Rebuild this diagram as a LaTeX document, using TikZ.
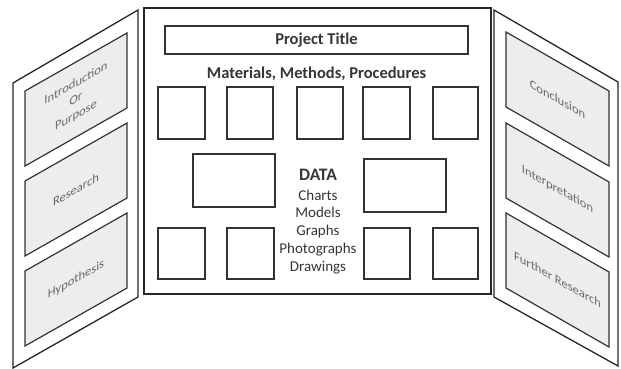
\documentclass[tikz,border=0pt]{standalone}
\usepackage{fontspec}
\setmainfont{Carlito}
\definecolor{ink}{HTML}{262626}
\definecolor{boxline}{HTML}{333333}
\definecolor{sidefill}{HTML}{EDEDED}
\definecolor{sidetxt}{HTML}{6A6A6A}
\definecolor{ctxt}{HTML}{363636}
\begin{document}
\begin{tikzpicture}[x=1pt,y=-1pt,
  panel/.style={draw=ink,line width=1.3pt,fill=white,line join=miter},
  sidebox/.style={draw=boxline,line width=1.2pt,fill=sidefill},
  mainpanel/.style={draw=ink,line width=2.6pt},
  cbox/.style={draw=boxline,line width=1.3pt,inner sep=0pt,outer sep=0pt},
  sidetext/.style={text=sidetxt,font=\fontsize{12.5}{16}\selectfont,align=center,inner sep=0pt},
  headtext/.style={text=ctxt,font=\fontsize{16.5}{18}\selectfont\bfseries,inner sep=0pt},
  datatext/.style={text=ctxt,font=\fontsize{15}{16}\selectfont,inner sep=0pt}]
\useasboundingbox (0,0) rectangle (621,368);
% side panels
\draw[panel] (13,83) -- (138,10) -- (138,297) -- (13,368) -- cycle;
\draw[panel] (494,10) -- (618,82) -- (618,366) -- (494,297) -- cycle;
\foreach \t in {91,181,271}{
  \draw[sidebox] (25,\t) -- (127,\t-58) -- (127,\t+17) -- (25,\t+75) -- cycle;}
\foreach \t in {32,123,213}{
  \draw[sidebox] (506,\t) -- (609,\t+59) -- (609,\t+134) -- (506,\t+75) -- cycle;}
% side texts
\node[sidetext,yslant=0.57] (intro) at (76,99.5) {Introduction\\Or\\Purpose};
\node[sidetext,yslant=0.57] (research) at (76,189.5) {Research};
\node[sidetext,yslant=0.57] (hypo) at (76,279.5) {Hypothesis};
\node[sidetext,yslant=-0.57] (concl) at (557.5,99) {Conclusion};
\node[sidetext,yslant=-0.57] (interp) at (557.5,189.5) {Interpretation};
\node[sidetext,yslant=-0.57] (further) at (557.5,279.5) {Further Research};
% main panel
\draw[mainpanel,fill=white] (144,8) rectangle (491,294);
\node[cbox,minimum width=303,minimum height=28,headtext] (title) at (316.5,40) {Project Title};
\node[headtext] (mmp) at (316.5,74) {Materials, Methods, Procedures};
% top row
\node[cbox,minimum width=47,minimum height=52] (t1) at (181.5,113) {};
\node[cbox,minimum width=46,minimum height=52] (t2) at (250,113) {};
\node[cbox,minimum width=46,minimum height=52] (t3) at (320,113) {};
\node[cbox,minimum width=47,minimum height=52] (t4) at (386.5,113) {};
\node[cbox,minimum width=45,minimum height=52] (t5) at (455.5,113) {};
% middle
\node[cbox,minimum width=82,minimum height=53] (m1) at (234,180.5) {};
\node[cbox,minimum width=82,minimum height=53] (m2) at (405,185.5) {};
% bottom row
\node[cbox,minimum width=47,minimum height=51] (b1) at (181.5,253.5) {};
\node[cbox,minimum width=47,minimum height=51] (b2) at (250.5,253.5) {};
\node[cbox,minimum width=46,minimum height=51] (b3) at (387,253.5) {};
\node[cbox,minimum width=45,minimum height=51] (b4) at (455.5,253.5) {};
% data text
\node[headtext,font=\fontsize{17.5}{18}\selectfont\bfseries] (data) at (318,175) {DATA};
\node[datatext] (charts) at (318,195) {Charts};
\node[datatext] (models) at (318,212.5) {Models};
\node[datatext] (graphs) at (318,231) {Graphs};
\node[datatext] (photos) at (318,249.5) {Photographs};
\node[datatext] (draw) at (318,268) {Drawings};
\end{tikzpicture}
\end{document}
